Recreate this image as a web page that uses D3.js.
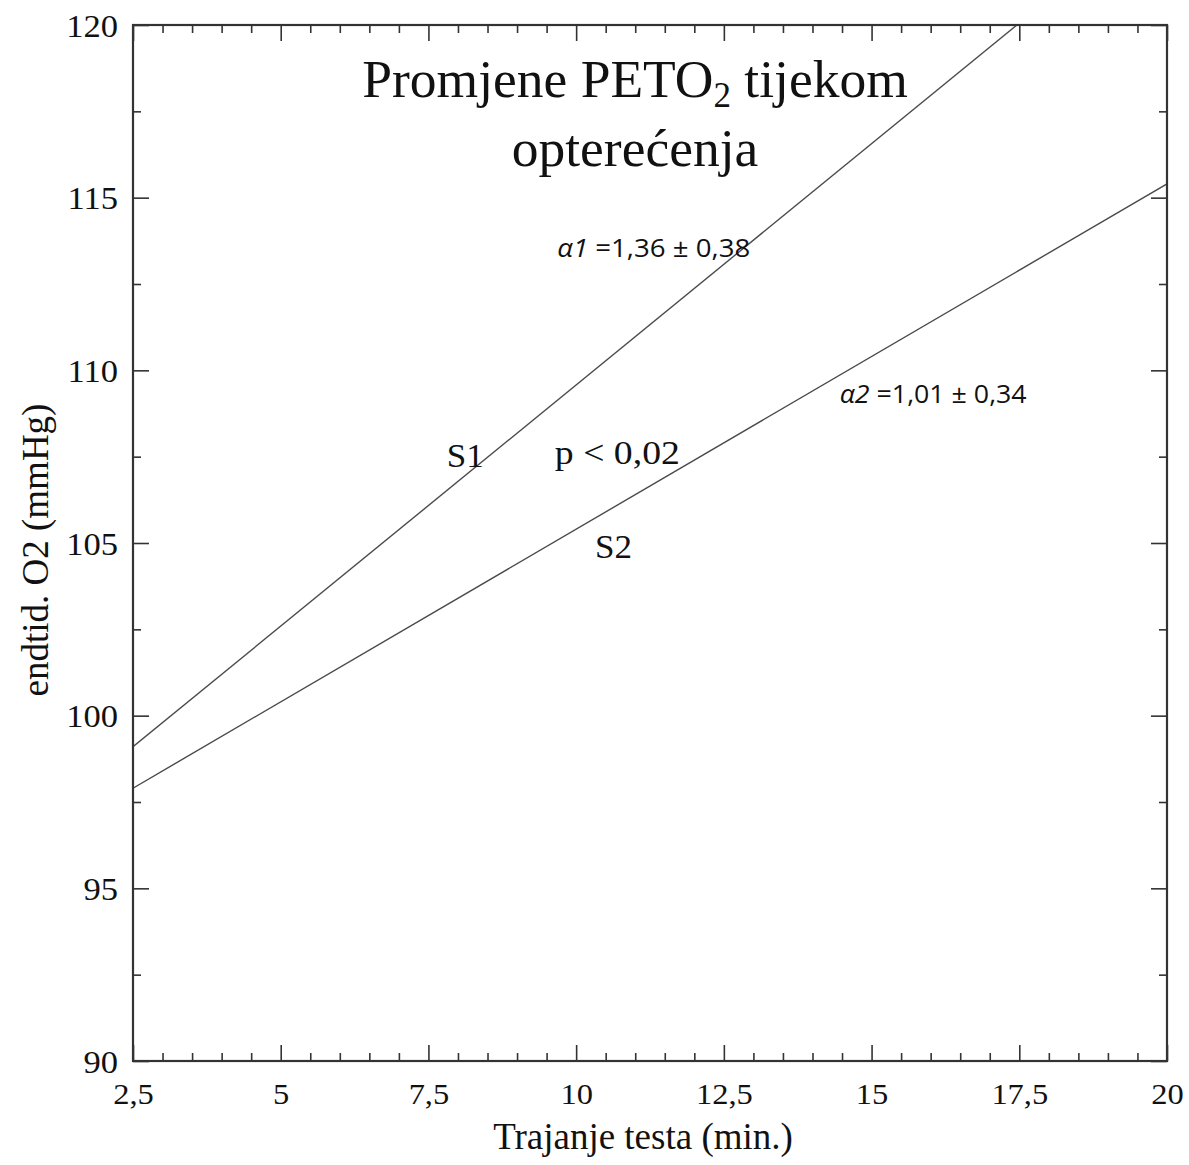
<!DOCTYPE html>
<html><head><meta charset="utf-8">
<script src="https://cdn.jsdelivr.net/npm/d3@7"></script>
<style>body{margin:0;background:#fff}svg{display:block}</style>
</head><body>
<svg id="c" width="1189" height="1165"></svg>
<script>
// ---- data ----
const xMajorTicks = [2.5, 5, 7.5, 10, 12.5, 15, 17.5, 20];
const xTickLabels = ["2,5", "5", "7,5", "10", "12,5", "15", "17,5", "20"];
const yMajorTicks = [90, 95, 100, 105, 110, 115, 120];
const yTickLabels = ["90", "95", "100", "105", "110", "115", "120"];
const s1X = [2.5, 17.46];
const s1Y = [99.1, 120];
const s2X = [2.5, 20];
const s2Y = [97.9, 115.4];
const xLabel = "Trajanje testa (min.)";
const yLabel = "endtid. O2 (mmHg)";

// ---- layout ----
const L = 133, R = 1167, T = 25, B = 1061;
const svg = d3.select("#c");
const x = d3.scaleLinear().domain([2.5, 20]).range([L, R]);
const y = d3.scaleLinear().domain([90, 120]).range([B, T]);
const axisCol = "#333";
const serif = "'Liberation Serif','Times New Roman',serif";
const sans = "'Open Sans','Liberation Sans',sans-serif";

const xMinor = d3.range(2.5, 20.001, 0.5).filter(v => Math.abs((v / 2.5) - Math.round(v / 2.5)) > 1e-6);
const yMinor = d3.range(90, 120.001, 2.5).filter(v => v % 5 !== 0);

// data lines (clipped)
svg.append("clipPath").attr("id", "clip").append("rect")
  .attr("x", L).attr("y", T).attr("width", R - L).attr("height", B - T);
const line = d3.line().x(d => x(d[0])).y(d => y(d[1]));
const g = svg.append("g").attr("clip-path", "url(#clip)");
[[s1X, s1Y], [s2X, s2Y]].forEach(([xs, ys]) => {
  g.append("path").datum(xs.map((v, i) => [v, ys[i]]))
    .attr("d", line).attr("fill", "none").attr("stroke", "#4a4a4a").attr("stroke-width", 1.4);
});

// axes with inward ticks
function tickAxis(axisGen, tr, vals, size) {
  const a = svg.append("g").attr("transform", tr)
    .call(axisGen.tickValues(vals).tickSize(size).tickFormat(""));
  a.select(".domain").remove();
  a.selectAll("line").attr("stroke", axisCol).attr("stroke-width", 1.6);
  return a;
}
tickAxis(d3.axisTop(x), `translate(0,${B})`, xMajorTicks, 16);
tickAxis(d3.axisTop(x), `translate(0,${B})`, xMinor, 8);
tickAxis(d3.axisBottom(x), `translate(0,${T})`, xMajorTicks, 16);
tickAxis(d3.axisBottom(x), `translate(0,${T})`, xMinor, 8);
tickAxis(d3.axisRight(y), `translate(${L},0)`, yMajorTicks, 16);
tickAxis(d3.axisRight(y), `translate(${L},0)`, yMinor, 8);
tickAxis(d3.axisLeft(y), `translate(${R},0)`, yMajorTicks, 16);
tickAxis(d3.axisLeft(y), `translate(${R},0)`, yMinor, 8);

// frame
svg.append("rect").attr("x", L).attr("y", T).attr("width", R - L).attr("height", B - T)
  .attr("fill", "none").attr("stroke", axisCol).attr("stroke-width", 2.2);

// helper: stretch text horizontally by factor
function stretch(sel, f) {
  sel.each(function () {
    const w = this.getComputedTextLength();
    d3.select(this).attr("textLength", w * f).attr("lengthAdjust", "spacingAndGlyphs");
  });
}

// tick labels
const xl = d3.axisBottom(x).tickValues(xMajorTicks).tickSize(0).tickPadding(0)
  .tickFormat((d, i) => xTickLabels[i]);
const xg = svg.append("g").attr("transform", `translate(0,${B})`).call(xl);
xg.select(".domain").remove();
xg.selectAll("text").attr("font-family", serif).attr("font-size", 29).attr("fill", "#111")
  .attr("dy", null).attr("y", 43);
stretch(xg.selectAll("text"), 1.12);

const yl = d3.axisLeft(y).tickValues(yMajorTicks).tickSize(0).tickPadding(0)
  .tickFormat((d, i) => yTickLabels[i]);
const yg = svg.append("g").attr("transform", `translate(${L - 15},0)`).call(yl);
yg.select(".domain").remove();
yg.selectAll("text").attr("font-family", serif).attr("font-size", 32).attr("fill", "#111")
  .attr("dy", "0.35em");
stretch(yg.selectAll("text"), 1.08);

// axis titles
svg.append("text").attr("x", 643).attr("y", 1149).attr("text-anchor", "middle")
  .attr("font-family", serif).attr("font-size", 37).attr("fill", "#111").text(xLabel);
svg.append("text").attr("transform", `translate(48,550) rotate(-90)`)
  .attr("text-anchor", "middle").attr("font-family", serif).attr("font-size", 37)
  .attr("fill", "#111").text(yLabel);

// title
const t1 = svg.append("text").attr("x", 635).attr("y", 97).attr("text-anchor", "middle")
  .attr("font-family", serif).attr("font-size", 53.5).attr("fill", "#111");
t1.append("tspan").text("Promjene PETO");
t1.append("tspan").attr("font-size", 35).attr("dy", 10).text("2");
t1.append("tspan").attr("dy", -10).text(" tijekom");
svg.append("text").attr("x", 635).attr("y", 166).attr("text-anchor", "middle")
  .attr("font-family", serif).attr("font-size", 53.5).attr("fill", "#111").text("opterećenja");

// annotations (data coordinates)
const a1 = svg.append("text").attr("x", x(9.68)).attr("y", y(113.28))
  .attr("font-family", sans).attr("font-size", 25).attr("fill", "#111")
  .attr("textLength", 193).attr("lengthAdjust", "spacingAndGlyphs");
a1.append("tspan").attr("font-style", "italic").text("α1");
a1.append("tspan").text(" =1,36 ± 0,38");
const a2 = svg.append("text").attr("x", x(14.46)).attr("y", y(109.05))
  .attr("font-family", sans).attr("font-size", 25).attr("fill", "#111")
  .attr("textLength", 187).attr("lengthAdjust", "spacingAndGlyphs");
a2.append("tspan").attr("font-style", "italic").text("α2");
a2.append("tspan").text(" =1,01 ± 0,34");

const txt = (xv, yv, s, len) => svg.append("text").attr("x", x(xv)).attr("y", y(yv))
  .attr("font-family", serif).attr("font-size", 33).attr("fill", "#111")
  .attr("textLength", len).attr("lengthAdjust", "spacingAndGlyphs").text(s);
txt(7.81, 107.2, "S1", 37);
txt(9.64, 107.29, "p < 0,02", 125);
txt(10.32, 104.56, "S2", 37);
</script>
</body></html>
